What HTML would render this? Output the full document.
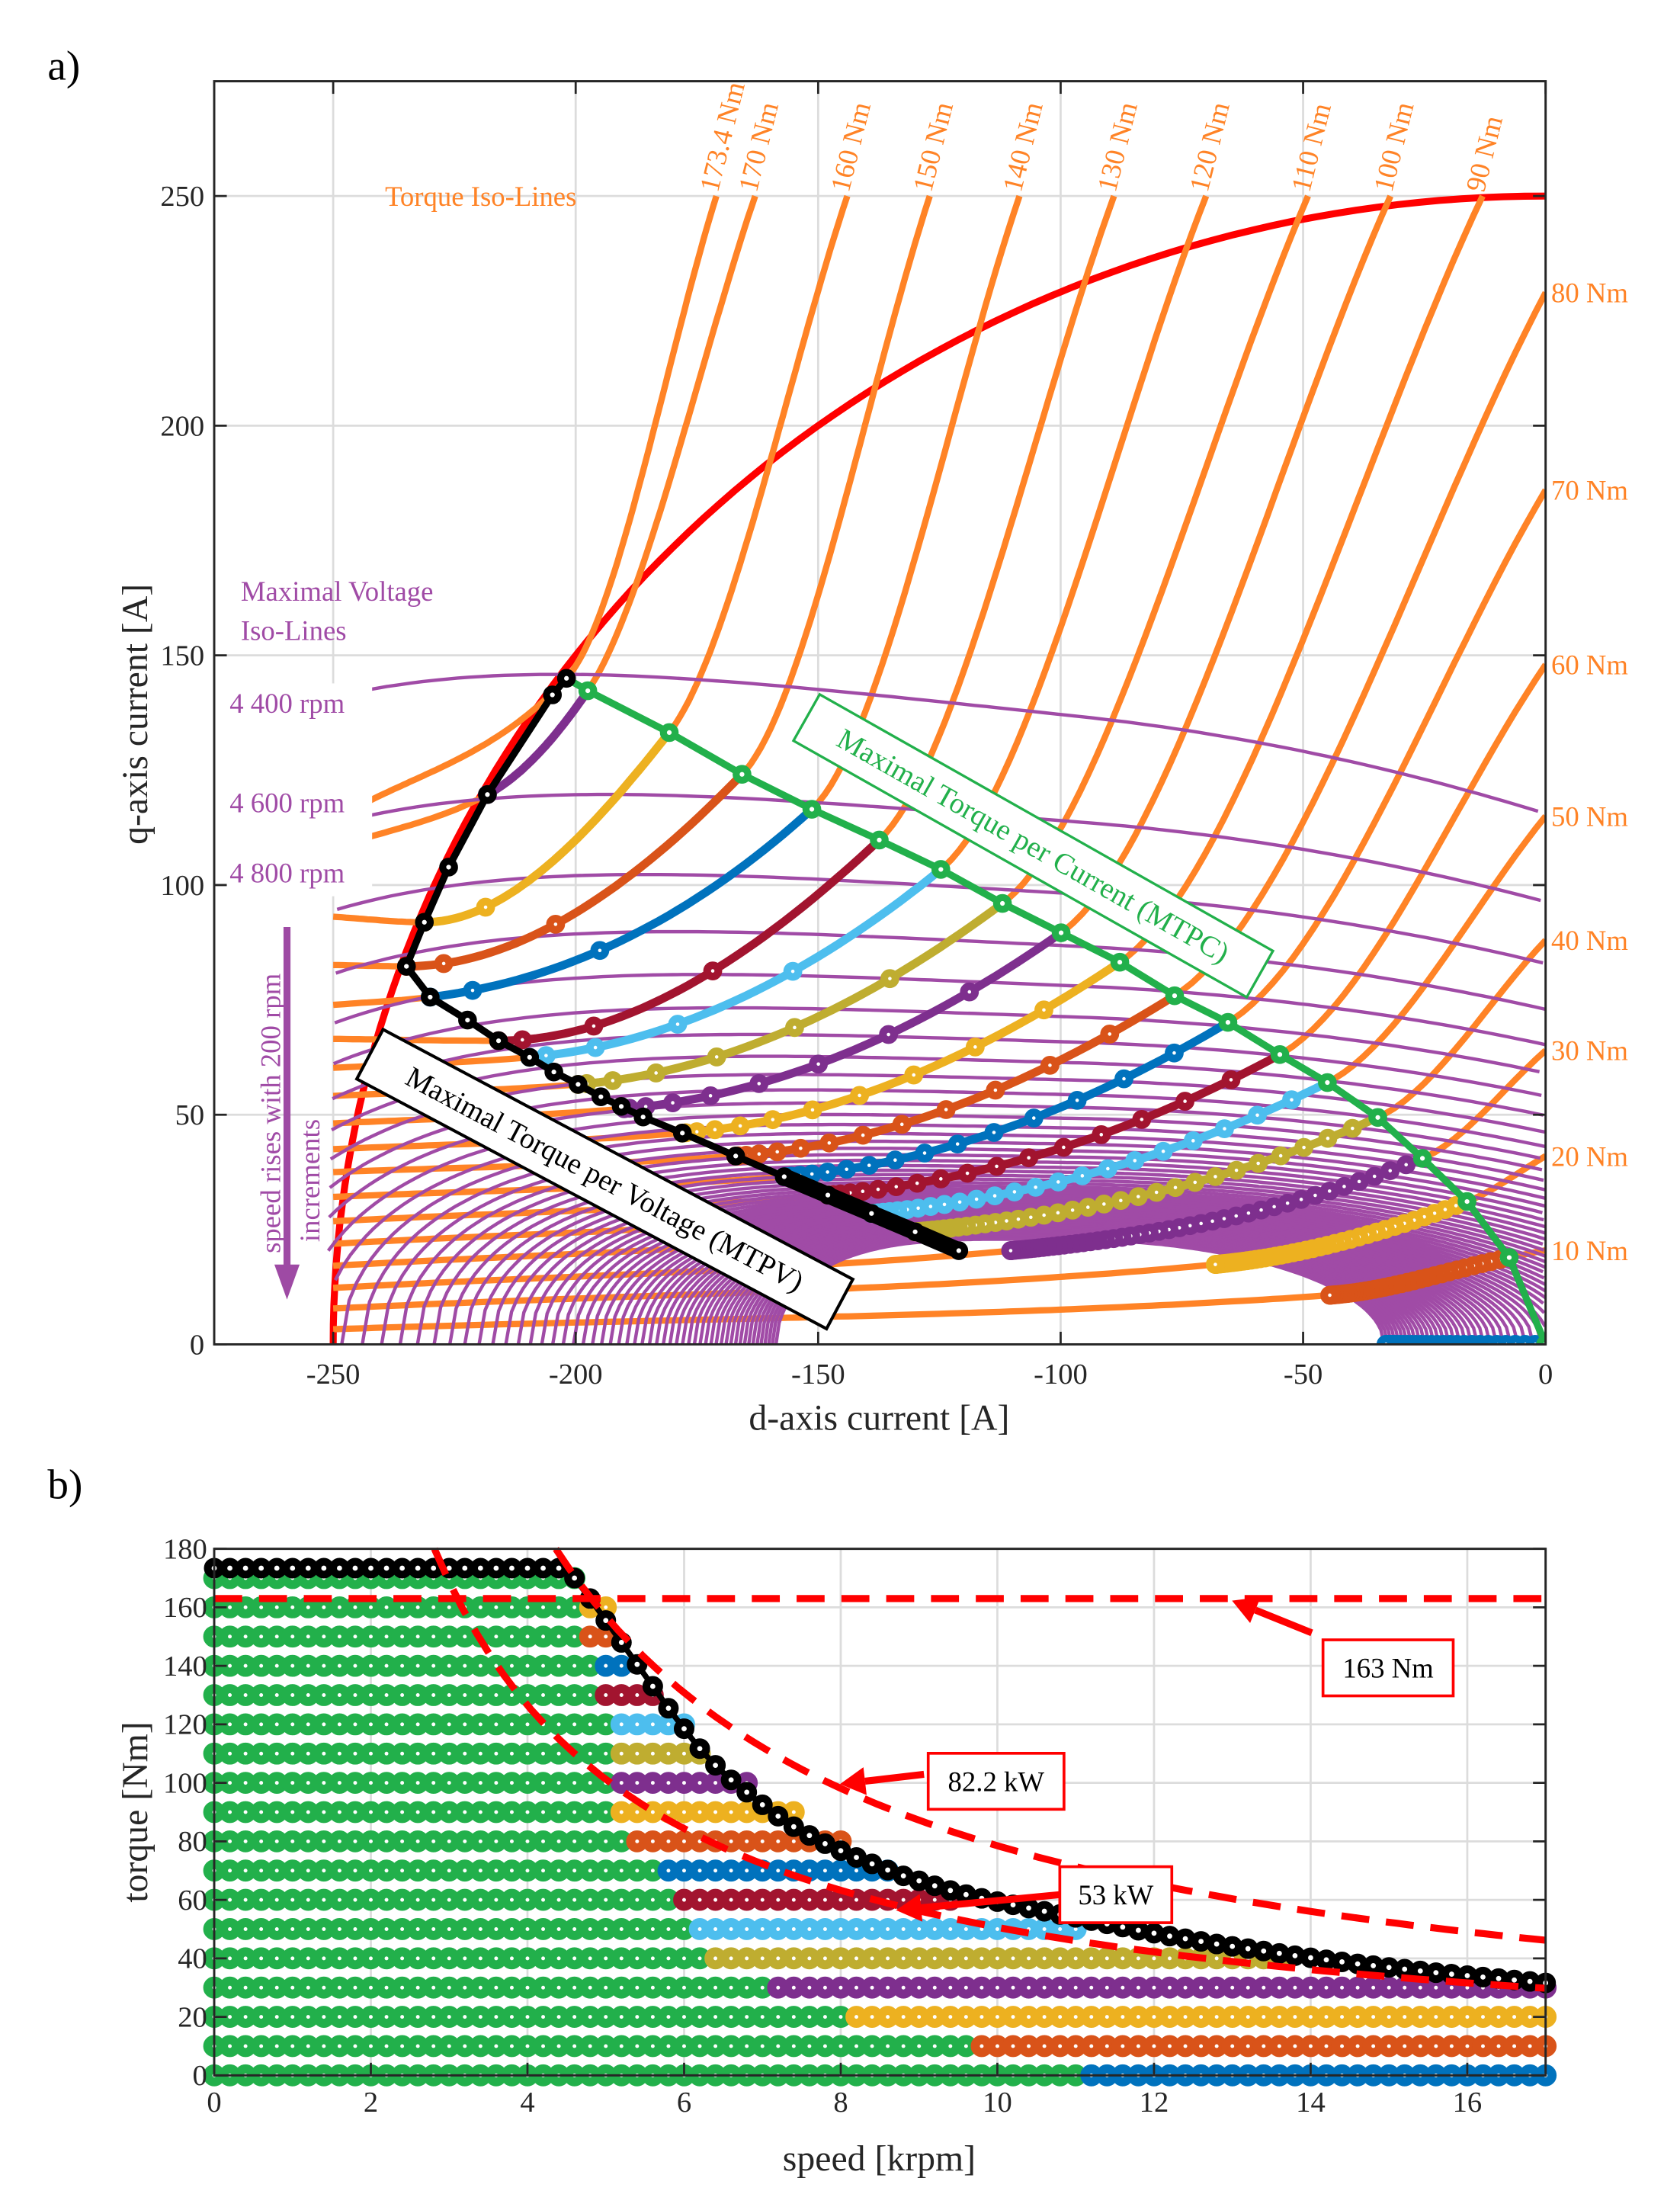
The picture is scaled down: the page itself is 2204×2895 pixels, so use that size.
<!DOCTYPE html>
<html><head><meta charset="utf-8">
<style>
html,body{margin:0;padding:0;background:#fff;}
svg{display:block;font-family:"Liberation Serif",serif;}
</style></head>
<body>
<svg id="fig" width="2204" height="2895" viewBox="0 0 1200 1576" preserveAspectRatio="none" xmlns="http://www.w3.org/2000/svg">
<defs>
<clipPath id="clipTop"><rect x="153" y="58" width="951" height="902"/></clipPath>
<clipPath id="clipBot"><rect x="140" y="1095" width="980" height="400"/></clipPath>
</defs>
<rect x="0" y="0" width="1200" height="1576" fill="#fff"/>
<g id="topChart"></g>
<g id="botChart"></g>
</svg>
<script>
// ---------------- top chart data ----------------
const torqueLevels = [10,20,30,40,50,60,70,80,90,100,110,120,130,140,150,160,170,173.4];
const torqueLeftIq = [3.3,7.8,12.3,17.1,21.9,26.8,32.1,37.5,42.5,48.1,54.1,60.2,66.5,73.9,82.6,93.1,108,114];
const torqueRightIq = [20.5,41,64,88,115,148,186,229];          // iq at id=0 for 10..80 Nm
const torqueTopId = [-13,-32,-49,-70,-89,-108.5,-127,-144,-163,-171]; // id at iq=250 for 90..173.4 Nm
const opTorques = [0,10,20,30,40,50,60,70,80,90,100,110,120,130,140,150,160,170];
const mtpcId = [0,-7.5,-16.2,-25.4,-34.6,-45,-54.8,-65.5,-76.5,-87.8,-99.9,-112,-124.7,-137.4,-151.3,-165.7,-180.7,-197.5];
const mtpcIq = [0,18.9,31.1,40.5,49.4,57,63.1,70.1,75.9,83.2,89.6,96,103.4,109.8,116.5,124.1,133.2,142.3];
const endId = [-32.9,-44.5,-68.1,-110.3,-130,-139,-148,-157,-167,-178,-190,-199.5,-209.5,-215.9,-230,-234.9,-231.2,-218.2];
const endIq = [0,10.7,17.4,20.4,24.5,28.5,32.5,36.5,41,46,51.3,56.6,62.5,66.1,75.6,82.3,91.9,119.7];
const mtpvId = [-201.9,-204.8,-218.2,-226.2,-231.2,-234.9,-230.0,-222.3,-215.9,-209.5,-204.5,-199.5,-194.8,-190.6,-186.1,-178,-167,-157,-148,-139,-130,-121];
const mtpvIq = [145.0,141.4,119.7,103.9,91.9,82.3,75.6,70.6,66.1,62.5,59.3,56.6,53.9,51.8,49.5,46,41,36.5,32.5,28.5,24.5,20.4];
const voltSpeeds = []; for (let n = 4400; n <= 17000; n += 200) voltSpeeds.push(n);
const xTicksTop = [-250,-200,-150,-100,-50,0];
const yTicksTop = [0,50,100,150,200,250];
// ---------------- bottom chart data ----------------
const rowTorques = [0,10,20,30,40,50,60,70,80,90,100,110,120,130,140,150,160,170];
const cornerSpeed = [11.1,9.5,7.9,6.9,6.3,5.9,5.7,5.5,5.3,5.1,5.0,4.9,4.9,4.7,4.7,4.5,4.5,4.5];
const maxSpeed = [17,17,17,17,13.5,11,9.3,8.7,7.9,7.3,6.7,6.3,5.9,5.6,5.3,5.1,4.9,4.5];
const envTorque = [173.4,173.4,173.4,173.4,173.4,173.4,173.4,173.4,173.4,173.4,173.4,173.4,173.4,173.4,173.4,173.4,173.4,173.4,173.4,173.4,173.4,173.4,173.4,
170,163,155.5,148,140.5,133,125.5,118.5,111.7,106,101,96.8,92.5,88.6,85,82,79.2,76.8,74.5,72.3,70.2,68.2,66.5,64.8,63.2,61.8,60.5,59.4,58.3,57.2,56.1,55,54,52.9,51.8,50.7,49.6,48.6,47.6,46.7,45.8,44.9,44.1,43.3,42.5,41.7,40.9,40.2,39.5,38.8,38.1,37.5,36.9,36.3,35.7,35.1,34.6,34.1,33.6,33.1,32.6,32.1,31.6];
const torqueLimit = 163;
const powerA = 82.2, powerB = 53;
const xTicksBot = [0,2,4,6,8,10,12,14,16];
const yTicksBot = [0,20,40,60,80,100,120,140,160,180];

const colorCycle = ['#0072BD','#D95319','#EDB120','#7E2F8E','#BFAD30','#4DBEEE','#A2142F'];
const ORANGE='#FF8326', PURPLE='#A04BA6', GREEN='#22B04B', RED='#FF0000';

const NS='http://www.w3.org/2000/svg';
function mk(tag, attrs, parent){const e=document.createElementNS(NS,tag);for(const k in attrs)e.setAttribute(k,attrs[k]);parent.appendChild(e);return e;}
function spline(xs,ys){const n=xs.length,h=[],d=[];for(let i=0;i<n-1;i++){h[i]=xs[i+1]-xs[i];d[i]=(ys[i+1]-ys[i])/h[i];}
 const m=new Array(n);m[0]=d[0];m[n-1]=d[n-2];
 for(let i=1;i<n-1;i++){if(d[i-1]*d[i]<=0)m[i]=0;else{const w1=2*h[i]+h[i-1],w2=h[i]+2*h[i-1];m[i]=(w1+w2)/(w1/d[i-1]+w2/d[i]);}}
 return x=>{let i=0;while(i<n-2&&x>xs[i+1])i++;const t=(x-xs[i])/h[i],t2=t*t,t3=t2*t;
 return (2*t3-3*t2+1)*ys[i]+(t3-2*t2+t)*h[i]*m[i]+(-2*t3+3*t2)*ys[i+1]+(t3-t2)*h[i]*m[i+1];};}
function txt(parent,s,x,y,attrs,name){const t=mk('text',Object.assign({x,y},attrs),parent);t.textContent=s;
 
 
 return t;}

// ================= TOP CHART =================
const topG=document.getElementById('topChart');
const X=id=>1104+id*3.464, Y=iq=>960-iq*3.28;
for(const t of xTicksTop){if(t===0)continue;const g=mk('line',{x1:X(t),x2:X(t),y1:58,y2:960,stroke:'#dcdcdc','stroke-width':1.5},topG);

}
for(const t of yTicksTop){if(t===0)continue;const g=mk('line',{x1:153,x2:1104,y1:Y(t),y2:Y(t),stroke:'#dcdcdc','stroke-width':1.5},topG);

}
const plotT=mk('g',{'clip-path':'url(#clipTop)'},topG);


{let d='';for(let k=0;k<=90;k++){const a=Math.PI*(1-k/180);const id=250*Math.cos(a),iq=250*Math.sin(a);d+=(k?'L':'M')+X(id).toFixed(1)+','+Y(iq).toFixed(1);}
const c=mk('path',{d,fill:'none',stroke:RED,'stroke-width':5},plotT);

}
const torqueFns=[];
torqueLevels.forEach((T,i)=>{
 const xs=[-250],ys=[torqueLeftIq[i]];
 const oi=opTorques.indexOf(T);
 if(oi>=0){if(endId[oi]>-250&&T>0){xs.push(endId[oi]);ys.push(endIq[oi]);} xs.push(mtpcId[oi]);ys.push(mtpcIq[oi]);}
 else {xs.push(mtpvId[0]);ys.push(mtpvIq[0]);}
 let xe,ye; if(i<torqueRightIq.length){xe=0;ye=torqueRightIq[i];}else{xe=torqueTopId[i-torqueRightIq.length];ye=250;}
 xs.push(xe);ys.push(ye);
 const f=spline(xs,ys);torqueFns[i]=f;
 let d='';const N=120;for(let k=0;k<=N;k++){const id=-250+(xe+250)*k/N;d+=(k?'L':'M')+X(id).toFixed(1)+','+Y(f(id)).toFixed(1);}
 const p=mk('path',{d,fill:'none',stroke:ORANGE,'stroke-width':4.5},plotT);
 
 
});
voltSpeeds.forEach(n=>{
 const c=-96,a=96*11100/n,b=104524/(n-3541)+15,s=0.2*b/137;
 let d='',first=true;const N=200;
 for(let k=0;k<=N;k++){const u=-1+2*k/N;const id=c+a*u;if(id<-251||id>0.5)continue;
  const base=u<0?Math.sqrt(Math.max(0,1-Math.pow(-u,4))):Math.sqrt(Math.max(0,1-u*u));
  const iq=b*base*(1-s*u);d+=(first?'M':'L')+X(id).toFixed(1)+','+Y(iq).toFixed(1);first=false;}
 const p=mk('path',{d,fill:'none',stroke:PURPLE,'stroke-width':2.4},plotT);
 
 
});
opTorques.forEach((T,i)=>{
 const col=colorCycle[i%7];
 const f=T===0?(()=>0):torqueFns[torqueLevels.indexOf(T)];
 const g=mk('g',{},plotT);
 
 
 let d='';const N=40;for(let k=0;k<=N;k++){const id=mtpcId[i]+(endId[i]-mtpcId[i])*k/N;const iq=(k===N)?endIq[i]:f(id);d+=(k?'L':'M')+X(id).toFixed(1)+','+Y(iq).toFixed(1);}
 const p=mk('path',{d,fill:'none',stroke:col,'stroke-width':6},g);
 
 
 const cnt=Math.max(2,Math.round((maxSpeed[i]-cornerSpeed[i])/0.2)+1);
 for(let k=1;k<cnt;k++){const u=k/(cnt-1);const w=1-(1-u)*(1-u);const id=mtpcId[i]+(endId[i]-mtpcId[i])*w;const iq=(k===cnt-1)?endIq[i]:f(id);
  const m=mk('circle',{cx:X(id),cy:Y(iq),r:4,fill:'#fff',stroke:col,'stroke-width':5.5},g);
  
  }
});
{const g=mk('g',{},plotT);


let d='';mtpcId.forEach((id,k)=>{d+=(k?'L':'M')+X(id)+','+Y(mtpcIq[k]);});d+='L'+X(mtpvId[0])+','+Y(mtpvIq[0]);
const p=mk('path',{d,fill:'none',stroke:GREEN,'stroke-width':5},g);


mtpcId.forEach((id,k)=>{const m=mk('circle',{cx:X(id),cy:Y(mtpcIq[k]),r:4.2,fill:'#fff',stroke:GREEN,'stroke-width':5},g);

});}
{const g=mk('g',{},plotT);


let d='';mtpvId.forEach((id,k)=>{d+=(k?'L':'M')+X(id)+','+Y(mtpvIq[k]);});
const p=mk('path',{d,fill:'none',stroke:'#000','stroke-width':5},g);


let d2='';mtpvId.forEach((id,k)=>{if(id>=-158){d2+=(d2?'L':'M')+X(id)+','+Y(mtpvIq[k]);}});
const p2=mk('path',{d:d2,fill:'none',stroke:'#000','stroke-width':12,'stroke-linecap':'round'},g);


mtpvId.forEach((id,k)=>{const m=mk('circle',{cx:X(id),cy:Y(mtpvIq[k]),r:4.2,fill:'#fff',stroke:'#000','stroke-width':5},g);

});}
{const r=mk('rect',{x:153.8,y:488,width:112,height:152,fill:'#fff'},topG);

}
{const f=mk('rect',{x:153,y:58,width:951,height:902,fill:'none',stroke:'#262626','stroke-width':1.6},topG);

}
xTicksTop.forEach(t=>{const l=mk('line',{x1:X(t),x2:X(t),y1:960,y2:951,stroke:'#262626','stroke-width':1.5},topG);


const l2=mk('line',{x1:X(t),x2:X(t),y1:58,y2:67,stroke:'#262626','stroke-width':1.5},topG);


txt(topG,String(t),X(t),988,{'font-size':21,'text-anchor':'middle',fill:'#262626'},'x-tick-label');});
yTicksTop.forEach(t=>{const l=mk('line',{x1:153,x2:162,y1:Y(t),y2:Y(t),stroke:'#262626','stroke-width':1.5},topG);


const l2=mk('line',{x1:1095,x2:1104,y1:Y(t),y2:Y(t),stroke:'#262626','stroke-width':1.5},topG);


txt(topG,String(t),146,Y(t)+7,{'font-size':21,'text-anchor':'end',fill:'#262626'},'y-tick-label');});
txt(topG,'d-axis current [A]',628,1021,{'font-size':26,'text-anchor':'middle',fill:'#262626'},'x-axis-title');
txt(topG,'q-axis current [A]',0,0,{'font-size':26,'text-anchor':'middle',fill:'#262626',transform:'translate(105,510) rotate(-90)'},'y-axis-title');
txt(topG,'a)',34,57,{'font-size':30,fill:'#000'},'panel-label-a');
txt(topG,'Torque Iso-Lines',275,147,{'font-size':20,fill:ORANGE},'torque-iso-lines-label');
txt(topG,'Maximal Voltage',172,429,{'font-size':20,fill:PURPLE},'voltage-iso-lines-label');
txt(topG,'Iso-Lines',172,457,{'font-size':20,fill:PURPLE},'voltage-iso-lines-label-2');
txt(topG,'4 400 rpm',164,509,{'font-size':20,fill:PURPLE},'rpm-label-4400');
txt(topG,'4 600 rpm',164,580,{'font-size':20,fill:PURPLE},'rpm-label-4600');
txt(topG,'4 800 rpm',164,630,{'font-size':20,fill:PURPLE},'rpm-label-4800');
torqueRightIq.forEach((iq,i)=>{txt(topG,torqueLevels[i]+' Nm',1108,Y(iq)+7,{'font-size':20,fill:ORANGE},'torque-label-right');});
torqueTopId.forEach((id,i)=>{const T=torqueLevels[i+torqueRightIq.length];
 txt(topG,T+' Nm',0,0,{'font-size':20,fill:ORANGE,transform:'translate('+(X(id)+1)+',138) rotate(-76)'},'torque-label-top');});
{const a=mk('line',{x1:205,x2:205,y1:662,y2:905,stroke:'#9E4AA4','stroke-width':5},topG);


const h=mk('polygon',{points:'196,903 214,903 205,928',fill:'#9E4AA4'},topG);

}
txt(topG,'speed rises with 200 rpm',0,0,{'font-size':20,fill:PURPLE,'text-anchor':'middle',transform:'translate(200,795) rotate(-90)'},'speed-arrow-label');
txt(topG,'increments',0,0,{'font-size':20,fill:PURPLE,'text-anchor':'middle',transform:'translate(228,843) rotate(-90)'},'speed-arrow-label-2');
{const g=mk('g',{transform:'translate(738,604) rotate(29.5)'},topG);


const r=mk('rect',{x:-186,y:-19,width:372,height:38,fill:'#fff',stroke:GREEN,'stroke-width':1.8},g);


txt(g,'Maximal Torque per Current (MTPC)',0,7,{'font-size':21,fill:GREEN,'text-anchor':'middle'},'mtpc-label');}
{const g=mk('g',{transform:'translate(432,842) rotate(28)'},topG);


const r=mk('rect',{x:-190,y:-20,width:380,height:40,fill:'#fff',stroke:'#000','stroke-width':2.2},g);


txt(g,'Maximal Torque per Voltage (MTPV)',0,7,{'font-size':21,fill:'#000','text-anchor':'middle'},'mtpv-label');}

// ================= BOTTOM CHART =================
const botG=document.getElementById('botChart');
const XB=n=>153+n*951/17, YB=T=>1482-T*376/180;
for(const t of xTicksBot){if(t===0)continue;const g=mk('line',{x1:XB(t),x2:XB(t),y1:1106,y2:1482,stroke:'#dcdcdc','stroke-width':1.5},botG);

}
for(const t of yTicksBot){if(t===0||t===180)continue;const g=mk('line',{x1:153,x2:1104,y1:YB(t),y2:YB(t),stroke:'#dcdcdc','stroke-width':1.5},botG);

}
const plotB=mk('g',{'clip-path':'url(#clipBot)'},botG);


rowTorques.forEach((T,i)=>{
 const g=mk('g',{},plotB);
 
 
 const col=colorCycle[i%7];
 const nG=Math.round(cornerSpeed[i]/0.2);
 for(let k=0;k<=nG;k++){const m=mk('circle',{cx:XB(k*0.2),cy:YB(T),r:4.6,fill:'#fff',stroke:GREEN,'stroke-width':6.5},g);
  
  }
 const nE=Math.round(maxSpeed[i]/0.2);
 for(let k=nG+1;k<=nE;k++){const m=mk('circle',{cx:XB(k*0.2),cy:YB(T),r:4.6,fill:'#fff',stroke:col,'stroke-width':6.5},g);
  
  }
});
{const g=mk('g',{},plotB);


let d='';envTorque.forEach((T,k)=>{d+=(k?'L':'M')+XB(k*0.2).toFixed(1)+','+YB(T).toFixed(1);});
const p=mk('path',{d,fill:'none',stroke:'#000','stroke-width':4},g);


envTorque.forEach((T,k)=>{const m=mk('circle',{cx:XB(k*0.2),cy:YB(T),r:4.6,fill:'#fff',stroke:'#000','stroke-width':5.5},g);

});}
{const h=mk('line',{x1:XB(0),x2:XB(17),y1:YB(torqueLimit),y2:YB(torqueLimit),stroke:RED,'stroke-width':5,'stroke-dasharray':'20 12'},plotB);


[[powerA,'power-limit-82kw'],[powerB,'power-limit-53kw']].forEach(([P,nm])=>{
 const k=P*1000/(2*Math.PI/60*1000);const n0=k/180;let d='';const N=80;
 for(let j=0;j<=N;j++){const n=n0+(17-n0)*j/N;d+=(j?'L':'M')+XB(n).toFixed(1)+','+YB(k/n).toFixed(1);}
 const p=mk('path',{d,fill:'none',stroke:RED,'stroke-width':5,'stroke-dasharray':'20 12'},plotB);
 
 });}
{const f=mk('rect',{x:153,y:1106,width:951,height:376,fill:'none',stroke:'#262626','stroke-width':1.6},botG);

}
xTicksBot.forEach(t=>{const l=mk('line',{x1:XB(t),x2:XB(t),y1:1482,y2:1473,stroke:'#262626','stroke-width':1.5},botG);


txt(botG,String(t),XB(t),1508,{'font-size':21,'text-anchor':'middle',fill:'#262626'},'x-tick-label');});
yTicksBot.forEach(t=>{const l=mk('line',{x1:153,x2:162,y1:YB(t),y2:YB(t),stroke:'#262626','stroke-width':1.5},botG);


const l2=mk('line',{x1:1095,x2:1104,y1:YB(t),y2:YB(t),stroke:'#262626','stroke-width':1.5},botG);


txt(botG,String(t),148,YB(t)+7,{'font-size':21,'text-anchor':'end',fill:'#262626'},'y-tick-label');});
txt(botG,'speed [krpm]',628,1550,{'font-size':26,'text-anchor':'middle',fill:'#262626'},'x-axis-title-b');
txt(botG,'torque [Nm]',0,0,{'font-size':26,'text-anchor':'middle',fill:'#262626',transform:'translate(105,1294) rotate(-90)'},'y-axis-title-b');
txt(botG,'b)',34,1070,{'font-size':30,fill:'#000'},'panel-label-b');
function callout(bx,by,bw,bh,label,x1,y1,x2,y2,name){
 const g=mk('g',{},botG);
 
 
 const ang=Math.atan2(y2-y1,x2-x1);const L=18,W=10;
 const sx=x2-L*Math.cos(ang),sy=y2-L*Math.sin(ang);
 const ln=mk('line',{x1,y1,x2:sx,y2:sy,stroke:RED,'stroke-width':5},g);
 
 
 const px=-Math.sin(ang)*W,py=Math.cos(ang)*W;
 const hd=mk('polygon',{points:`${x2},${y2} ${sx+px},${sy+py} ${sx-px},${sy-py}`,fill:RED},g);
 
 
 const r=mk('rect',{x:bx,y:by,width:bw,height:bh,fill:'#fff',stroke:RED,'stroke-width':2},g);
 
 
 txt(g,label,bx+bw/2,by+bh/2+7,{'font-size':20,'text-anchor':'middle',fill:'#000'},'callout-label');}
callout(945,1171,93,40,'163 Nm',937,1166,880,1143,'callout-163nm');
callout(663,1252,97,40,'82.2 kW',660,1267,600,1274,'callout-82kw');
callout(757,1333,80,40,'53 kW',757,1353,640,1364,'callout-53kw');
</script>
</body></html>
